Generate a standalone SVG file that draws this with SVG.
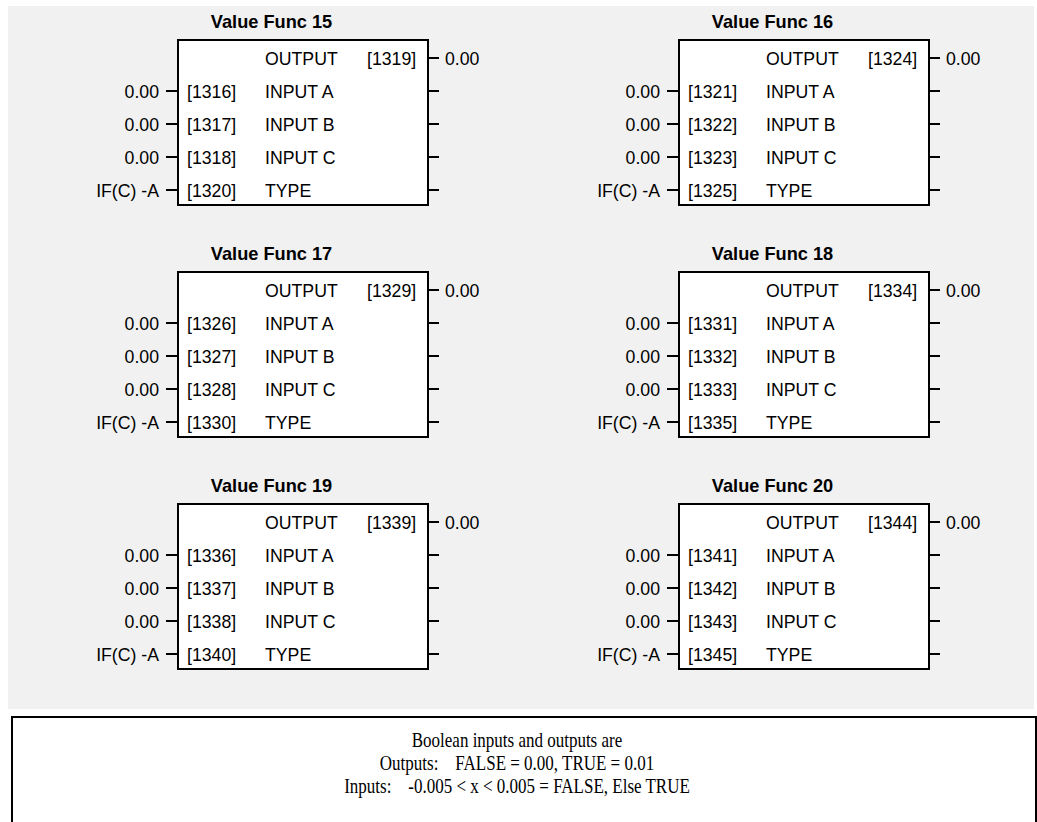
<svg xmlns="http://www.w3.org/2000/svg" width="1037" height="822" viewBox="0 0 1037 822">
<style>
.bg{fill:#f1f1f1}
.box{fill:#fff;stroke:#000;stroke-width:2}
.t{font-family:"Liberation Sans",Arial,sans-serif;font-size:17.7px;fill:#000}
.ttl{font-family:"Liberation Sans",Arial,sans-serif;font-size:18.2px;font-weight:bold;fill:#000;text-anchor:middle}
.r{text-anchor:end}
.tk{stroke:#000;stroke-width:2}
.note{fill:#fff;stroke:#000;stroke-width:2}
.nt{font-family:"Liberation Serif","Times New Roman",serif;font-size:20px;fill:#000;text-anchor:middle}
</style>
<rect class="bg" x="8" y="6" width="1026" height="703"/>

<g id="vf15">
<text class="ttl" x="271.5" y="28">Value Func 15</text>
<rect class="box" x="178" y="40" width="250" height="165"/>
<text class="t" x="265" y="65">OUTPUT</text><text class="t" x="367" y="65">[1319]</text><text class="t" x="445" y="65">0.00</text>
<text class="t r" x="159" y="98">0.00</text><text class="t" x="187" y="98">[1316]</text><text class="t" x="265" y="98">INPUT A</text>
<text class="t r" x="159" y="131">0.00</text><text class="t" x="187" y="131">[1317]</text><text class="t" x="265" y="131">INPUT B</text>
<text class="t r" x="159" y="164">0.00</text><text class="t" x="187" y="164">[1318]</text><text class="t" x="265" y="164">INPUT C</text>
<text class="t r" x="159" y="197">IF(C) -A</text><text class="t" x="187" y="197">[1320]</text><text class="t" x="265" y="197">TYPE</text>
</g>

<g id="vf16">
<text class="ttl" x="772.5" y="28">Value Func 16</text>
<rect class="box" x="679" y="40" width="250" height="165"/>
<text class="t" x="766" y="65">OUTPUT</text><text class="t" x="868" y="65">[1324]</text><text class="t" x="946" y="65">0.00</text>
<text class="t r" x="660" y="98">0.00</text><text class="t" x="688" y="98">[1321]</text><text class="t" x="766" y="98">INPUT A</text>
<text class="t r" x="660" y="131">0.00</text><text class="t" x="688" y="131">[1322]</text><text class="t" x="766" y="131">INPUT B</text>
<text class="t r" x="660" y="164">0.00</text><text class="t" x="688" y="164">[1323]</text><text class="t" x="766" y="164">INPUT C</text>
<text class="t r" x="660" y="197">IF(C) -A</text><text class="t" x="688" y="197">[1325]</text><text class="t" x="766" y="197">TYPE</text>
</g>

<g id="vf17">
<text class="ttl" x="271.5" y="260">Value Func 17</text>
<rect class="box" x="178" y="272" width="250" height="165"/>
<text class="t" x="265" y="297">OUTPUT</text><text class="t" x="367" y="297">[1329]</text><text class="t" x="445" y="297">0.00</text>
<text class="t r" x="159" y="330">0.00</text><text class="t" x="187" y="330">[1326]</text><text class="t" x="265" y="330">INPUT A</text>
<text class="t r" x="159" y="363">0.00</text><text class="t" x="187" y="363">[1327]</text><text class="t" x="265" y="363">INPUT B</text>
<text class="t r" x="159" y="396">0.00</text><text class="t" x="187" y="396">[1328]</text><text class="t" x="265" y="396">INPUT C</text>
<text class="t r" x="159" y="429">IF(C) -A</text><text class="t" x="187" y="429">[1330]</text><text class="t" x="265" y="429">TYPE</text>
</g>

<g id="vf18">
<text class="ttl" x="772.5" y="260">Value Func 18</text>
<rect class="box" x="679" y="272" width="250" height="165"/>
<text class="t" x="766" y="297">OUTPUT</text><text class="t" x="868" y="297">[1334]</text><text class="t" x="946" y="297">0.00</text>
<text class="t r" x="660" y="330">0.00</text><text class="t" x="688" y="330">[1331]</text><text class="t" x="766" y="330">INPUT A</text>
<text class="t r" x="660" y="363">0.00</text><text class="t" x="688" y="363">[1332]</text><text class="t" x="766" y="363">INPUT B</text>
<text class="t r" x="660" y="396">0.00</text><text class="t" x="688" y="396">[1333]</text><text class="t" x="766" y="396">INPUT C</text>
<text class="t r" x="660" y="429">IF(C) -A</text><text class="t" x="688" y="429">[1335]</text><text class="t" x="766" y="429">TYPE</text>
</g>

<g id="vf19">
<text class="ttl" x="271.5" y="492">Value Func 19</text>
<rect class="box" x="178" y="504" width="250" height="165"/>
<text class="t" x="265" y="529">OUTPUT</text><text class="t" x="367" y="529">[1339]</text><text class="t" x="445" y="529">0.00</text>
<text class="t r" x="159" y="562">0.00</text><text class="t" x="187" y="562">[1336]</text><text class="t" x="265" y="562">INPUT A</text>
<text class="t r" x="159" y="595">0.00</text><text class="t" x="187" y="595">[1337]</text><text class="t" x="265" y="595">INPUT B</text>
<text class="t r" x="159" y="628">0.00</text><text class="t" x="187" y="628">[1338]</text><text class="t" x="265" y="628">INPUT C</text>
<text class="t r" x="159" y="661">IF(C) -A</text><text class="t" x="187" y="661">[1340]</text><text class="t" x="265" y="661">TYPE</text>
</g>

<g id="vf20">
<text class="ttl" x="772.5" y="492">Value Func 20</text>
<rect class="box" x="679" y="504" width="250" height="165"/>
<text class="t" x="766" y="529">OUTPUT</text><text class="t" x="868" y="529">[1344]</text><text class="t" x="946" y="529">0.00</text>
<text class="t r" x="660" y="562">0.00</text><text class="t" x="688" y="562">[1341]</text><text class="t" x="766" y="562">INPUT A</text>
<text class="t r" x="660" y="595">0.00</text><text class="t" x="688" y="595">[1342]</text><text class="t" x="766" y="595">INPUT B</text>
<text class="t r" x="660" y="628">0.00</text><text class="t" x="688" y="628">[1343]</text><text class="t" x="766" y="628">INPUT C</text>
<text class="t r" x="660" y="661">IF(C) -A</text><text class="t" x="688" y="661">[1345]</text><text class="t" x="766" y="661">TYPE</text>
</g>

<g id="connectors">
<path class="tk" d="M428 58h11M428 91h11M428 124h11M428 157h11M428 190h11M166 91h12M166 124h12M166 157h12M166 190h12"/>
<path class="tk" d="M929 58h11M929 91h11M929 124h11M929 157h11M929 190h11M667 91h12M667 124h12M667 157h12M667 190h12"/>
<path class="tk" d="M428 290h11M428 323h11M428 356h11M428 389h11M428 422h11M166 323h12M166 356h12M166 389h12M166 422h12"/>
<path class="tk" d="M929 290h11M929 323h11M929 356h11M929 389h11M929 422h11M667 323h12M667 356h12M667 389h12M667 422h12"/>
<path class="tk" d="M428 522h11M428 555h11M428 588h11M428 621h11M428 654h11M166 555h12M166 588h12M166 621h12M166 654h12"/>
<path class="tk" d="M929 522h11M929 555h11M929 588h11M929 621h11M929 654h11M667 555h12M667 588h12M667 621h12M667 654h12"/>
</g>

<g id="note">
<rect class="note" x="12" y="717" width="1024" height="120"/>
<text class="nt" transform="translate(517 747) scale(0.85 1)" xml:space="preserve">Boolean inputs and outputs are</text>
<text class="nt" transform="translate(517 770) scale(0.85 1)" xml:space="preserve">Outputs:    FALSE = 0.00, TRUE = 0.01</text>
<text class="nt" transform="translate(517 793) scale(0.85 1)" xml:space="preserve">Inputs:    -0.005 &lt; x &lt; 0.005 = FALSE, Else TRUE</text>
</g>
</svg>
